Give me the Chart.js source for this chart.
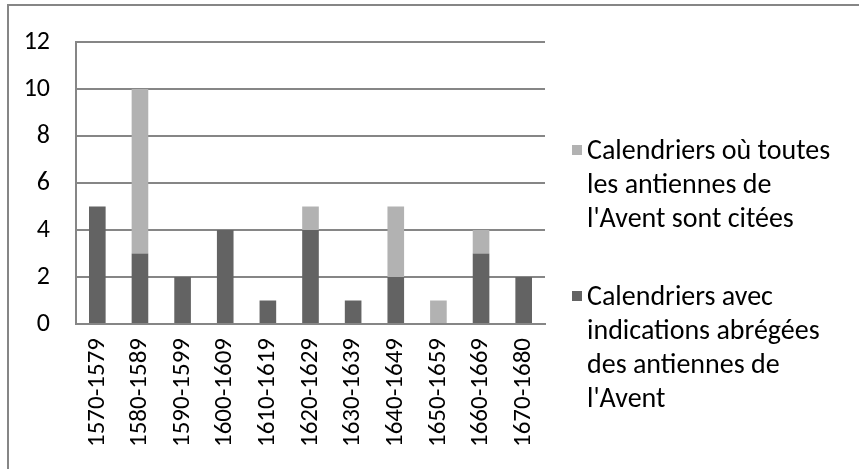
<!DOCTYPE html>
<html>
<head>
<meta charset="utf-8">
<script src="https://cdn.jsdelivr.net/npm/chart.js@4/dist/chart.umd.min.js"></script>
<style>
  body { margin: 0; background: #fff; }
  #wrap { position: relative; width: 859px; height: 469px; overflow: hidden; }
  #frame { position: absolute; left: 7px; top: 4px; width: 900px; height: 500px;
           border-left: 2px solid #868686; border-top: 2px solid #868686; }
  canvas { position: absolute; left: 0; top: 0; }
  .legend { position: absolute; left: 572px; font-family: Carlito, Calibri, Lato, sans-serif;
            font-size: 28px; line-height: 34px; color: #000; }
  .legend .sw { position: absolute; left: 0; top: 12px; width: 10px; height: 10px; }
  .legend .txt { margin-left: 15px; white-space: nowrap; }
</style>
</head>
<body>
<div id="wrap">
  <div id="frame"></div>
  <canvas id="calChart" width="859" height="469"></canvas>
  <div class="legend" style="top:133px">
    <div class="sw" style="background:#b2b2b2"></div>
    <div class="txt">Calendriers où toutes<br>les antiennes de<br>l'Avent sont citées</div>
  </div>
  <div class="legend" style="top:279px">
    <div class="sw" style="background:#636363"></div>
    <div class="txt">Calendriers avec<br>indications abrégées<br>des antiennes de<br>l'Avent</div>
  </div>
</div>
<script>
const periodes = ['1570-1579', '1580-1589', '1590-1599', '1600-1609', '1610-1619', '1620-1629',
                  '1630-1639', '1640-1649', '1650-1659', '1660-1669', '1670-1680'];
const abregees = [5, 3, 2, 4, 1, 4, 1, 2, 0, 3, 2];
const toutes = [0, 7, 0, 0, 0, 1, 0, 3, 1, 1, 0];
const yTicks = [0, 2, 4, 6, 8, 10, 12];

const police = "Carlito, Calibri, Lato, sans-serif";

const ctx = document.getElementById('calChart').getContext('2d');
new Chart(ctx, {
    type: 'bar',
    data: {
        labels: periodes,
        datasets: [
            {
                label: "Calendriers avec indications abrégées des antiennes de l'Avent",
                data: abregees,
                backgroundColor: '#636363',
            },
            {
                label: "Calendriers où toutes les antiennes de l'Avent sont citées",
                data: toutes,
                backgroundColor: '#b2b2b2',
            }
        ]
    },
    options: {
        responsive: false,
        animation: false,
        layout: { padding: { top: 42, right: 314, bottom: 0, left: 0 } },
        datasets: { bar: { categoryPercentage: 1, barPercentage: 0.39 } },
        plugins: {
            legend: { display: false },
            tooltip: { enabled: false }
        },
        scales: {
            x: {
                stacked: true,
                grid: { display: false },
                border: { display: true, color: '#868686', width: 2 },
                ticks: {
                    color: '#000', font: { family: police, size: 25 },
                    minRotation: 90, maxRotation: 90, padding: 6
                },
                afterFit: s => { s.height = 145; }
            },
            y: {
                stacked: true,
                min: 0, max: 12,
                afterBuildTicks: s => { s.ticks = yTicks.map(v => ({ value: v })); },
                grid: { color: '#868686', lineWidth: 2, drawTicks: false, tickLength: 0 },
                border: { display: true, color: '#868686', width: 2 },
                ticks: { color: '#000', font: { family: police, size: 26 }, padding: 26 },
                afterFit: s => { s.width = 76; }
            }
        }
    }
});
</script>
</body>
</html>
